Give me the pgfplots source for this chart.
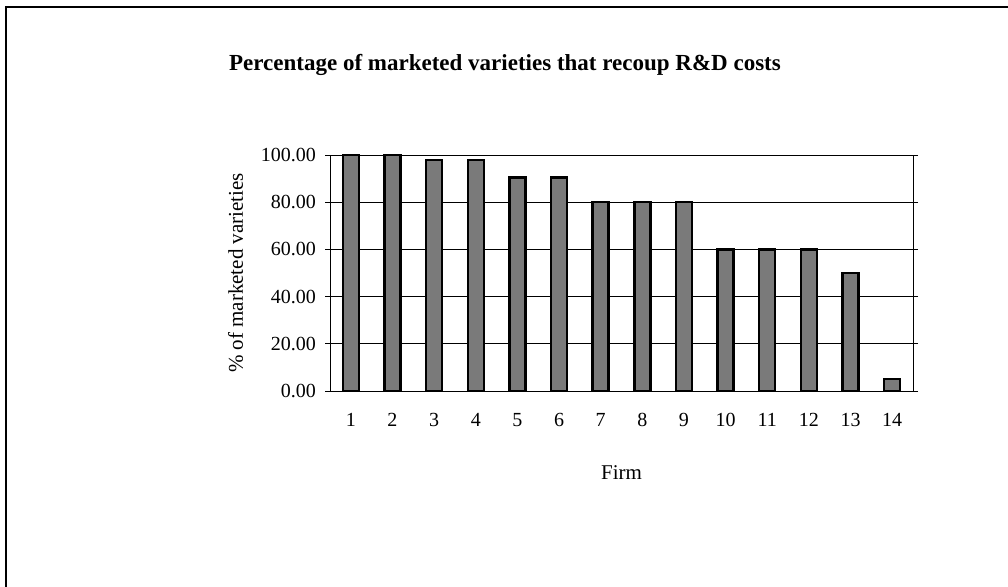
\documentclass[border=0pt]{standalone}
\usepackage{fontspec}
\setmainfont{Liberation Serif}
\usepackage{pgfplots}
\pgfplotsset{compat=1.18}
\begin{document}
\begin{tikzpicture}[x=0.5pt,y=0.5pt]
\path[use as bounding box] (0,0) rectangle (1008,587);
\draw[line width=1.4pt] (6,0) -- (6,580) -- (1008,580);
\node[font=\bfseries\fontsize{11.5}{13}\selectfont] at (505,522) {Percentage of marketed varieties that recoup R\&D costs};
\begin{axis}[
  at={(165pt,98pt)}, anchor=south west,
  scale only axis, width=291.5pt, height=118pt,
  xmin=0.5, xmax=14.5, ymin=0, ymax=100,
  ybar, bar width=8pt,
  xtick={1,...,14}, major x tick style={draw=none},
  extra x ticks={1.5,2.5,...,14.5}, extra x tick labels={},
  extra x tick style={major tick length=6pt, tick align=center, tick style={black, thin}},
  ytick={0,20,...,100},
  yticklabel={\pgfmathprintnumber[fixed,fixed zerofill,precision=2]{\tick}},
  /pgf/number format/assume math mode=true,
  ytick style={black, thin}, tick align=center, major tick length=5pt,
  ymajorgrids, grid style={black, thin},
  axis line style={black, thin},
  ticklabel style={font=\fontsize{10}{12}\selectfont},
  xticklabel style={yshift=-5pt},
  yticklabel style={xshift=-1pt},
  xlabel={Firm}, ylabel={\% of marketed varieties},
  label style={font=\fontsize{10.5}{12}\selectfont},
  xlabel style={yshift=-7pt},
  ylabel style={yshift=2pt},
]
\addplot[fill={rgb,255:red,122;green,122;blue,122}, draw=black, line width=1.2pt]
coordinates {(1,100) (2,100) (3,98) (4,98) (5,90.5) (6,90.5) (7,80) (8,80) (9,80) (10,60) (11,60) (12,60) (13,50) (14,5)};
\end{axis}
\end{tikzpicture}
\end{document}
